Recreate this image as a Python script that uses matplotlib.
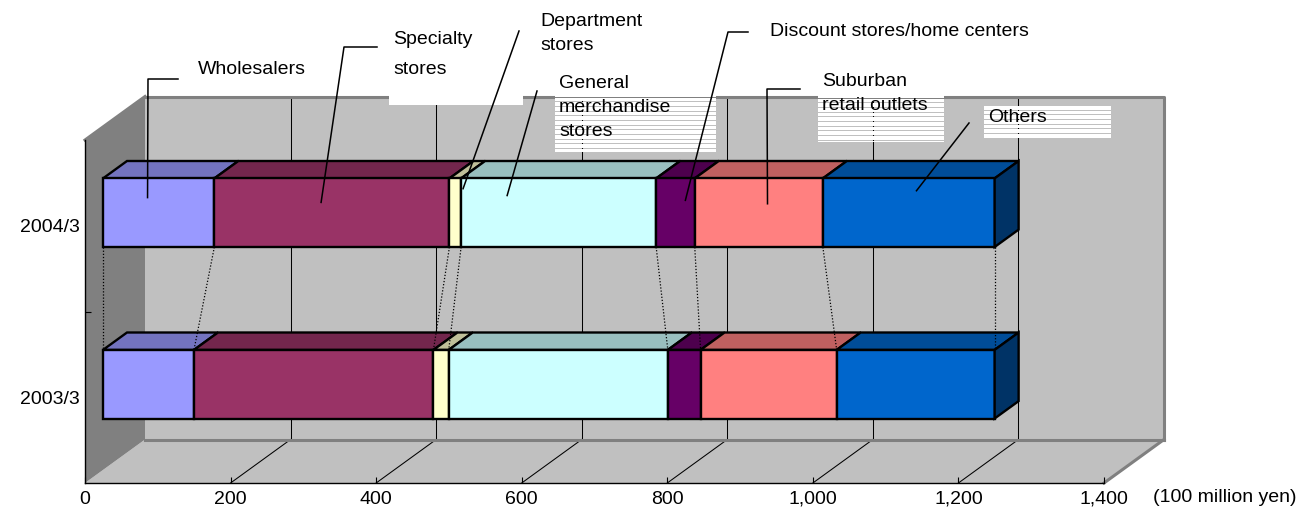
import numpy as np
import matplotlib
matplotlib.use('Agg')
import matplotlib.pyplot as plt
import matplotlib.transforms as mtransforms
from matplotlib.patches import Polygon, Rectangle
from matplotlib.lines import Line2D
from matplotlib.colors import to_rgb

plt.rcParams['font.family'] = ['Liberation Sans', 'DejaVu Sans']

# sales by channel (100 million yen)
periods = ['2003/3', '2004/3']
channels = ['Wholesalers', 'Specialty stores', 'Department stores',
            'General merchandise stores', 'Discount stores/home centers',
            'Suburban retail outlets', 'Others']
sales_2003 = [125, 329, 21, 301, 45, 187, 217]
sales_2004 = [153, 323, 16, 268, 53, 176, 236]
x_ticks = [0, 200, 400, 600, 800, 1000, 1200, 1400]
unit_label = '(100 million yen)'

face_colors = ['#9999FF', '#993366', '#FFFFCC', '#CCFFFF', '#660066', '#FF8080', '#0066CC']

W, H = 1306, 509
FS = 14

fig = plt.figure(figsize=(W / 100, H / 100), dpi=100)
ax = fig.add_axes([85 / W, 26 / H, 1019 / W, 343 / H])
ax.set_xlim(0, 1400)
ax.set_ylim(0, 2)
ax.patch.set_visible(False)
for s in ('top', 'right'):
    ax.spines[s].set_visible(False)
for s in ('bottom', 'left'):
    ax.spines[s].set_linewidth(1.0)
    ax.spines[s].set_zorder(2.5)

# depth offset of the 3-D box in data units
DX = 1400 * 60 / 1019
DY = 2 * 43.5 / 343


def proj(v, c, d):
    return (v + d * DX, c + d * DY)


def shade(color, f):
    return tuple(np.array(to_rgb(color)) * f)


# walls and floor
wall_kw = dict(ec='none', clip_on=False, zorder=0.5)
ax.add_patch(Polygon([proj(0, 0, 1), proj(1400, 0, 1), proj(1400, 2, 1), proj(0, 2, 1)],
                     fc='#C0C0C0', **wall_kw))
ax.add_patch(Polygon([proj(0, 0, 0), proj(1400, 0, 0), proj(1400, 0, 1), proj(0, 0, 1)],
                     fc='#C0C0C0', **wall_kw))
ax.add_patch(Polygon([proj(0, 0, 0), proj(0, 2, 0), proj(0, 2, 1), proj(0, 0, 1)],
                     fc='#808080', **wall_kw))

edge_kw = dict(color='#808080', lw=2.2, clip_on=False, zorder=1.5, solid_capstyle='projecting')
for path in ([proj(0, 2, 1), proj(1400, 2, 1), proj(1400, 0, 1)],
             [proj(0, 0, 1), proj(1400, 0, 1)],
             [proj(1400, 0, 0), proj(1400, 0, 1)],
             [proj(0, 2, 0), proj(0, 2, 1)]):
    xs, ys = zip(*path)
    ax.plot(xs, ys, **edge_kw)

# gridlines on back wall and floor
for v in x_ticks[1:-1]:
    for path in ([proj(v, 0, 1), proj(v, 2, 1)], [proj(v, 0, 0), proj(v, 0, 1)]):
        xs, ys = zip(*path)
        ax.plot(xs, ys, color='black', lw=0.75, clip_on=False, zorder=1)

# axes ticks and labels
ax.set_xticks(x_ticks)
ax.set_xticklabels([f'{t:,}' for t in x_ticks])
ax.tick_params(axis='x', direction='in', length=4.3, width=0.8, pad=5.5, labelsize=FS)
ax.set_yticks([1])
ax.set_yticklabels([''])
ax.set_yticks([0.5, 1.5], minor=True)
ax.set_yticklabels(periods, minor=True)
ax.tick_params(axis='y', which='major', direction='in', length=4.3, width=0.8)
ax.tick_params(axis='y', which='minor', length=0, pad=3.6, labelsize=FS)
ax.annotate(unit_label, xy=(1, 0), xycoords='axes fraction', xytext=(49, -14),
            textcoords='offset pixels', ha='left', va='center', fontsize=FS)

# stacked 3-D bars
HALF = 0.2
D0, D1 = 0.3, 0.7
bar_kw = dict(ec='black', lw=1.7, joinstyle='miter', clip_on=False, zorder=3)
cums = {}
for i, vals in enumerate([sales_2003, sales_2004]):
    c = i + 0.5
    cum = np.concatenate([[0], np.cumsum(vals)])
    cums[i] = cum
    for j, col in enumerate(face_colors):
        l, r = cum[j], cum[j + 1]
        ax.add_patch(Polygon([proj(l, c + HALF, D0), proj(r, c + HALF, D0),
                              proj(r, c + HALF, D1), proj(l, c + HALF, D1)],
                             fc=shade(col, 0.75), **bar_kw))
    for j, col in enumerate(face_colors):
        l, r = cum[j], cum[j + 1]
        x0, y0 = proj(l, c - HALF, D0)
        ax.add_patch(Rectangle((x0, y0), r - l, 2 * HALF, fc=col, **bar_kw))
    tot = cum[-1]
    ax.add_patch(Polygon([proj(tot, c - HALF, D0), proj(tot, c + HALF, D0),
                          proj(tot, c + HALF, D1), proj(tot, c - HALF, D1)],
                         fc=shade(face_colors[-1], 0.5), **bar_kw))

# series lines between the two bars
for a, b in zip(cums[1], cums[0]):
    p = proj(a, 1.5 - HALF, D0)
    q = proj(b, 0.5 + HALF, D0)
    ax.plot([p[0], q[0]], [p[1], q[1]], color='black', lw=0.9,
            ls=(0, (1, 1.5)), clip_on=False, zorder=4)

# callout labels, laid out in pixels from the top-left corner
top_px = mtransforms.Affine2D().scale(1, -1).translate(0, H)

callouts = [
    # text lines, text x, first line y, line step, elbow points, (x frac, y frac) on the 2004 bar
    (['Wholesalers'], 198, 70, 0, [(178, 79), (148, 79)], (0.40, 0.28)),
    (['Specialty', 'stores'], 393, 40, 30, [(377, 47), (344, 47)], (0.454, 0.35)),
    (['Department', 'stores'], 540, 22, 23, [(519, 31)], (1.17, 0.15)),
    (['General', 'merchandise', 'stores'], 559, 83, 24, [(537, 91)], (0.236, 0.25)),
    (['Discount stores/home centers'], 770, 31, 0, [(748, 32), (728, 32)], (0.757, 0.32)),
    (['Suburban', 'retail outlets'], 822, 81, 24, [(800, 89), (767, 89)], (0.568, 0.37)),
    (['Others'], 988, 118, 0, [(969, 123)], (0.545, 0.18)),
]

# plain white box behind "Specialty stores"
fig.add_artist(Rectangle((389, 84), 134, 21, transform=top_px, fc='white', ec='none', zorder=5))

# striped boxes
for bx0, by0, bx1, by1 in [(555, 93, 716, 152), (818, 94, 944, 142), (984, 106, 1111, 139)]:
    y = by0
    while y < by1:
        fig.add_artist(Rectangle((bx0, y), bx1 - bx0, min(3.7, by1 - y), transform=top_px,
                                 fc='white', ec='none', zorder=5))
        y += 4.67

cum04 = cums[1]
for j, (lines, tx, ty, step, elbow, (fx, fy)) in enumerate(callouts):
    l, r = cum04[j], cum04[j + 1]
    c_top = 1.5 + HALF
    vx, vy = proj(l + fx * (r - l), c_top - fy * 2 * HALF, D0)
    dx, dy = ax.transData.transform((vx, vy))
    pts = elbow + [(dx, H - dy)]
    xs, ys = zip(*pts)
    fig.add_artist(Line2D(xs, ys, transform=top_px, color='black', lw=1.1, zorder=6))
    for k, line in enumerate(lines):
        fig.text(tx, ty + k * step, line, transform=top_px, ha='left', va='center',
                 fontsize=FS, zorder=7)

fig.savefig('out.png', dpi=100)
